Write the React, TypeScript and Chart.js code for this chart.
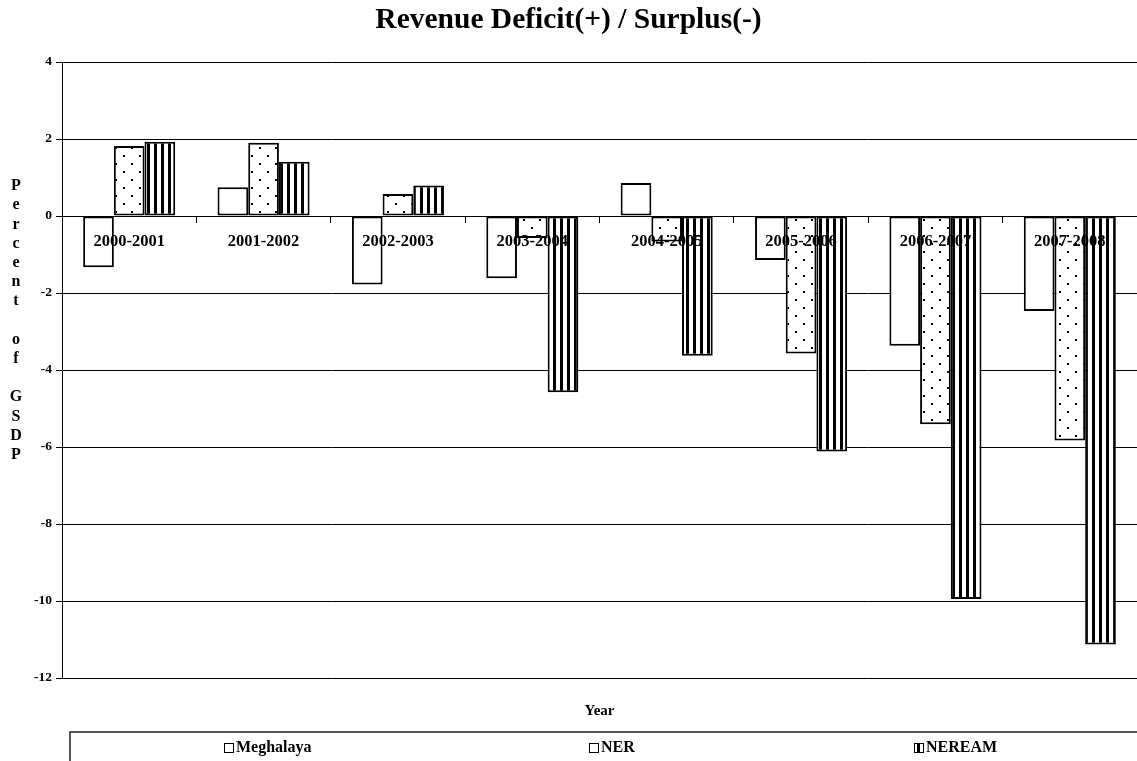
import React, { useEffect, useRef } from 'react';
import { Chart, registerables } from 'chart.js';

Chart.register(...registerables);

const categories = ['2000-2001', '2001-2002', '2002-2003', '2003-2004', '2004-2005', '2005-2006', '2006-2007', '2007-2008'];
const seriesNames = ['Meghalaya', 'NER', 'NEREAM'];
const meghalaya = [-1.33, 0.75, -1.78, -1.62, 0.86, -1.14, -3.37, -2.47];
const ner = [1.82, 1.9, 0.57, -0.57, -0.66, -3.57, -5.41, -5.83];
const neream = [1.93, 1.41, 0.79, -4.58, -3.63, -6.12, -9.95, -11.13];
const yMin = -12;
const yMax = 4;
const yStep = 2;
const chartTitle = 'Revenue Deficit(+) / Surplus(-)';
const xTitle = 'Year';
const yTitle = 'Percent of GSDP';

const FAMILY = '"Liberation Serif", "Times New Roman", serif';

function makePattern(ctx: CanvasRenderingContext2D, kind: 'dots' | 'stripes'): CanvasPattern | string {
  const c = document.createElement('canvas');
  if (kind === 'dots') {
    c.width = 16;
    c.height = 16;
    const g = c.getContext('2d')!;
    g.fillStyle = '#fff';
    g.fillRect(0, 0, 16, 16);
    g.fillStyle = '#000';
    g.fillRect(3, 3, 2, 2);
    g.fillRect(11, 11, 2, 2);
  } else {
    c.width = 7;
    c.height = 7;
    const g = c.getContext('2d')!;
    g.fillStyle = '#fff';
    g.fillRect(0, 0, 7, 7);
    g.fillStyle = '#000';
    g.fillRect(0, 0, 3, 7);
  }
  return ctx.createPattern(c, 'repeat') || '#fff';
}

const decorPlugin = {
  id: 'decor',
  afterDraw(chart: any) {
    const { ctx, chartArea } = chart;
    ctx.save();
    // stacked y-axis title
    ctx.fillStyle = '#000';
    ctx.font = `bold 16px ${FAMILY}`;
    ctx.textAlign = 'center';
    ctx.textBaseline = 'middle';
    yTitle.split('').forEach((ch: string, i: number) => {
      if (ch !== ' ') ctx.fillText(ch, 16, chartArea.top + 124 + i * 19.2);
    });

    // legend frame
    const frameTop = chart.height - 29;
    const frameLeft = chartArea.left + 8;
    ctx.strokeStyle = '#222';
    ctx.lineWidth = 1.5;
    ctx.beginPath();
    ctx.moveTo(chart.width, frameTop);
    ctx.lineTo(frameLeft, frameTop);
    ctx.lineTo(frameLeft, chart.height);
    ctx.stroke();

    // legend items
    const midX = (chartArea.left + chartArea.right) / 2 + 12.5;
    const midY = frameTop + 16;
    ctx.font = `bold 16px ${FAMILY}`;
    ctx.textAlign = 'left';
    chart.data.datasets.forEach((ds: any, i: number) => {
      const tw = ctx.measureText(ds.label).width;
      const box = 9;
      const itemW = box + 3 + tw;
      const cx = midX + (i - 1) * 344;
      const left = Math.round(cx - itemW / 2);
      ctx.fillStyle = ds.backgroundColor;
      ctx.fillRect(left, midY - 5, box, box);
      ctx.strokeStyle = '#000';
      ctx.lineWidth = 1;
      ctx.strokeRect(left + 0.5, midY - 5 + 0.5, box, box);
      ctx.fillStyle = '#000';
      ctx.fillText(ds.label, left + box + 3, midY);
    });
    ctx.restore();
  },
};

export default function App() {
  const ref = useRef<HTMLCanvasElement | null>(null);

  useEffect(() => {
    const canvas = ref.current;
    if (!canvas) return;
    const ctx = canvas.getContext('2d')!;
    const dots = makePattern(ctx, 'dots');
    const stripes = makePattern(ctx, 'stripes');

    const common = { borderColor: '#000', borderWidth: 2, borderSkipped: false as const };

    const chart = new Chart(canvas, {
      type: 'bar',
      data: {
        labels: categories,
        datasets: [
          { label: seriesNames[0], data: meghalaya, backgroundColor: '#fff', ...common },
          { label: seriesNames[1], data: ner, backgroundColor: dots as any, ...common },
          { label: seriesNames[2], data: neream, backgroundColor: stripes as any, ...common },
        ],
      },
      options: {
        responsive: false,
        animation: false,
        layout: { padding: { left: 0, right: 0, top: 0, bottom: 29 } },
        datasets: { bar: { categoryPercentage: 0.685, barPercentage: 1 } },
        plugins: {
          legend: { display: false },
          tooltip: { enabled: false },
          title: {
            display: true,
            text: chartTitle,
            color: '#000',
            font: { family: FAMILY, size: 29.5, weight: 'bold' },
            padding: { top: 3, bottom: 23.6 },
          },
          subtitle: {
            display: true,
            text: xTitle,
            position: 'bottom',
            fullSize: false,
            color: '#000',
            font: { family: FAMILY, size: 15, weight: 'bold' },
            padding: { top: 24, bottom: 12 },
          },
        },
        scales: {
          x: {
            position: { y: 0 } as any,
            grid: { display: true, drawOnChartArea: false, drawTicks: true, tickLength: 6, color: '#000', offset: true, z: 1 },
            border: { display: true, color: '#000', width: 1, z: 1 },
            ticks: {
              z: 1,
              color: '#000',
              font: { family: FAMILY, size: 16.5, weight: 'bold' },
              padding: 10,
              maxRotation: 0,
              autoSkip: false,
            },
            afterFit: (s: any) => {
              s.height = 0;
            },
          },
          y: {
            min: yMin,
            max: yMax,
            ticks: {
              stepSize: yStep,
              color: '#000',
              font: { family: FAMILY, size: 13.5, weight: 'bold' },
              padding: 4,
            },
            grid: { color: '#000', lineWidth: 1, tickLength: 6 },
            border: { color: '#000', width: 1 },
            afterFit: (s: any) => {
              s.width = 62;
            },
          },
        },
      },
      plugins: [decorPlugin],
    });

    return () => chart.destroy();
  }, []);

  return (
    <div style={{ position: 'fixed', left: 0, top: 0, width: 1137, height: 761, background: '#fff' }}>
      <canvas ref={ref} width={1137} height={761} style={{ display: 'block' }} />
    </div>
  );
}
